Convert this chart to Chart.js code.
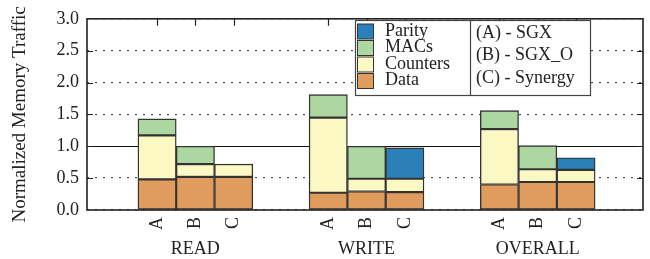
<!DOCTYPE html>
<html>
<head>
<meta charset="utf-8">
<script src="https://cdn.jsdelivr.net/npm/chart.js@4.4.1/dist/chart.umd.min.js"></script>
<style>
  html, body { margin: 0; padding: 0; background: #fff; }
  #wrap { width: 650px; height: 259px; }
</style>
</head>
<body>
<div id="wrap"><canvas id="graphCanvas"></canvas></div>
<script>
// values
var groups = ['READ', 'WRITE', 'OVERALL'];
var schemes = ['A', 'B', 'C'];
var notes = ['(A) - SGX', '(B) - SGX_O', '(C) - Synergy'];
var yTicks = [0, 0.5, 1.0, 1.5, 2.0, 2.5, 3.0];

var dataPart     = [0.48, 0.52, 0.52, 0.27, 0.29, 0.28, 0.40, 0.44, 0.44];
var countersPart = [0.69, 0.20, 0.20, 1.18, 0.20, 0.21, 0.87, 0.20, 0.19];
var macsPart     = [0.26, 0.28, null, 0.36, 0.51, null, 0.29, 0.37, null];
var parityPart   = [null, null, null, null, null, 0.485, null, null, 0.19];

// bar slots: one unit per bar, with a gap between groups
var groupGap = 1.47;
var barX = [];
for (var g = 0; g < groups.length; g++) {
    for (var s = 0; s < schemes.length; s++) {
        barX.push(g * (schemes.length + groupGap) + s);
    }
}
var groupX = [];
for (var g = 0; g < groups.length; g++) {
    groupX.push(barX[g * schemes.length + 1]);
}

var serif = "'Liberation Serif', 'Times New Roman', serif";
var ink = '#222';

function bar(label, values, color) {
    return {
        label: label,
        data: values,
        backgroundColor: color,
        borderColor: '#333',
        borderWidth: 1.4,
        borderSkipped: false,
        barPercentage: 1,
        categoryPercentage: 1
    };
}

// frame, inward tick marks and the in-plot key
var decor = {
    id: 'decor',
    afterDraw: function (chart) {
        var ctx = chart.ctx;
        var a = chart.chartArea;
        var xs = chart.scales.x;
        var ys = chart.scales.y;
        ctx.save();
        ctx.strokeStyle = ink;
        ctx.lineWidth = 1.2;
        ctx.beginPath();
        barX.forEach(function (v) {
            var px = Math.round(xs.getPixelForValue(v)) + 0.5;
            ctx.moveTo(px, a.top);
            ctx.lineTo(px, a.top + 7);
        });
        yTicks.slice(1, -1).forEach(function (v) {
            var py = Math.round(ys.getPixelForValue(v)) + 0.5;
            ctx.moveTo(a.left, py);
            ctx.lineTo(a.left + 6, py);
            ctx.moveTo(a.right, py);
            ctx.lineTo(a.right - 6, py);
        });
        ctx.stroke();
        ctx.lineWidth = 1.6;
        ctx.strokeRect(a.left, a.top, a.right - a.left, a.bottom - a.top);

        // key box
        var kx = 355, ky = 20, kw = 235, kh = 75, div = 470;
        ctx.fillStyle = '#fff';
        ctx.fillRect(kx, ky, kw, kh);
        ctx.strokeStyle = '#444';
        ctx.lineWidth = 1.2;
        ctx.strokeRect(kx + 0.5, ky + 0.5, kw, kh);
        ctx.beginPath();
        ctx.moveTo(div + 0.5, ky);
        ctx.lineTo(div + 0.5, ky + kh);
        ctx.stroke();

        ctx.font = '18px ' + serif;
        ctx.textBaseline = 'middle';
        ctx.textAlign = 'left';
        var sets = chart.data.datasets.slice().reverse();
        sets.forEach(function (ds, i) {
            var cy = ky + 11 + i * 16.5;
            ctx.fillStyle = ds.backgroundColor;
            ctx.fillRect(kx + 2.5, cy - 7, 16, 15);
            ctx.strokeStyle = '#333';
            ctx.lineWidth = 1;
            ctx.strokeRect(kx + 2.5, cy - 7, 16, 15);
            ctx.fillStyle = ink;
            ctx.fillText(ds.label, kx + 30, cy);
        });
        notes.forEach(function (t, i) {
            ctx.fillStyle = ink;
            ctx.fillText(t, div + 6, ky + 13 + i * 22.5);
        });
        ctx.restore();
    }
};

var chartdata = {
    labels: barX,
    datasets: [
        bar('Data', dataPart, '#e09c5c'),
        bar('Counters', countersPart, '#fbf8c4'),
        bar('MACs', macsPart, '#acd7a1'),
        bar('Parity', parityPart, '#2b80ba')
    ]
};

var graphTarget = document.getElementById('graphCanvas');

var barGraph = new Chart(graphTarget, {
    type: 'bar',
    data: chartdata,
    plugins: [decor],
    options: {
        responsive: true,
        maintainAspectRatio: false,
        animation: false,
        layout: { padding: { top: 11, right: 7, left: 0, bottom: 0 } },
        plugins: {
            legend: { display: false },
            tooltip: { enabled: false }
        },
        scales: {
            x: {
                type: 'linear',
                stacked: true,
                offset: false,
                weight: 0,
                min: -1.83,
                max: 12.69,
                grid: { display: false, drawTicks: false },
                border: { display: false },
                afterBuildTicks: function (scale) {
                    scale.ticks = barX.map(function (v) { return { value: v }; });
                },
                afterFit: function (scale) { scale.height = 26; },
                ticks: {
                    autoSkip: false,
                    minRotation: 90,
                    maxRotation: 90,
                    padding: 7,
                    color: ink,
                    font: { family: serif, size: 18 },
                    callback: function (value, index) {
                        return schemes[index % schemes.length];
                    }
                }
            },
            x2: {
                type: 'linear',
                position: 'bottom',
                offset: false,
                weight: 1,
                min: -1.83,
                max: 12.69,
                grid: { display: false, drawTicks: false },
                border: { display: false },
                afterBuildTicks: function (scale) {
                    scale.ticks = groupX.map(function (v) { return { value: v }; });
                },
                afterFit: function (scale) { scale.height = 23; },
                ticks: {
                    autoSkip: false,
                    minRotation: 0,
                    maxRotation: 0,
                    padding: 2,
                    color: ink,
                    font: { family: serif, size: 18 },
                    callback: function (value, index) {
                        return groups[index];
                    }
                }
            },
            y: {
                stacked: true,
                min: 0,
                max: 3,
                afterBuildTicks: function (scale) {
                    scale.ticks = yTicks.map(function (v) { return { value: v }; });
                },
                afterFit: function (scale) { scale.width = 87; },
                grid: {
                    drawTicks: false,
                    color: function (c) { return c.tick.value === 1 ? '#111' : '#555'; },
                    lineWidth: function (c) { return c.tick.value === 1 ? 1 : 1.3; }
                },
                border: {
                    display: false,
                    dash: function (c) { return c.tick.value === 1 ? [] : [2, 6]; }
                },
                title: {
                    display: true,
                    text: 'Normalized Memory Traffic',
                    color: ink,
                    font: { family: serif, size: 19 },
                    padding: { top: 9, bottom: 0 }
                },
                ticks: {
                    padding: 8,
                    color: ink,
                    font: { family: serif, size: 18 },
                    callback: function (value) { return value.toFixed(1); }
                }
            }
        }
    }
});
</script>
</body>
</html>
